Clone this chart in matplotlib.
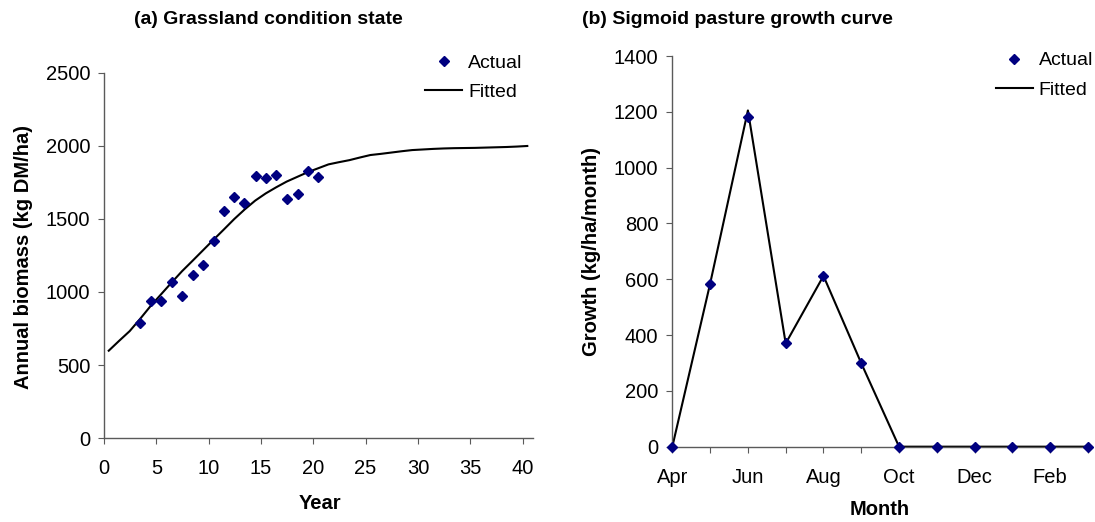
import matplotlib
matplotlib.use('Agg')
import matplotlib.pyplot as plt
from matplotlib.lines import Line2D

plt.rcParams['font.family'] = ['Liberation Sans', 'DejaVu Sans']

# (a) grassland condition state
actual_years = [3.44, 4.46, 5.41, 6.46, 7.48, 8.47, 9.46, 10.5, 11.46, 12.45,
                13.4, 14.5, 15.47, 16.46, 17.45, 18.5, 19.48, 20.47]
actual_biomass = [785, 940, 940, 1068, 975, 1116, 1187, 1352, 1557, 1648,
                  1607, 1795, 1781, 1801, 1640, 1669, 1831, 1788]

fitted_years = [0.45, 1.45, 2.45, 3.45, 4.45, 5.45, 6.45, 7.45, 8.45, 9.45,
                10.45, 11.45, 12.45, 13.45, 14.45, 15.45, 16.45, 17.45, 18.45, 19.45,
                20.45, 21.45, 22.45, 23.45, 24.45, 25.45, 26.45, 27.45, 28.45, 29.45,
                30.45, 31.45, 32.45, 33.45, 34.45, 35.45, 36.45, 37.45, 38.45, 39.45,
                40.45]
fitted_biomass = [598, 666, 732, 816, 904, 984, 1064, 1142, 1213, 1285,
                  1357, 1428, 1500, 1566, 1626, 1675, 1717, 1756, 1788, 1820,
                  1847, 1874, 1889, 1903, 1921, 1938, 1946, 1955, 1964, 1972,
                  1976, 1980, 1983, 1985, 1986, 1987, 1989, 1991, 1993, 1996,
                  2000]

# (b) sigmoid pasture growth curve
months = ['Apr', 'May', 'Jun', 'Jul', 'Aug', 'Sep', 'Oct', 'Nov', 'Dec', 'Jan', 'Feb', 'Mar']
actual_growth = [0, 584, 1180, 370, 612, 299, 0, 0, 0, 0, 0, 0]
fitted_growth = [0, 584, 1205, 370, 612, 299, 0, 0, 0, 0, 0, 0]

spine_col = '#5a5a5a'
mk_col = '#000080'
W, H = 1095.0, 522.0

fig = plt.figure(figsize=(10.95, 5.22), dpi=100)
ax1 = fig.add_axes([0.0950, 0.1609, 0.3918, 0.6993])
ax2 = fig.add_axes([0.6140, 0.1443, 0.3796, 0.7484])

for ax in (ax1, ax2):
    for s in ('top', 'right'):
        ax.spines[s].set_visible(False)
    for s in ('left', 'bottom'):
        ax.spines[s].set_color(spine_col)
        ax.spines[s].set_linewidth(1.0)
    ax.tick_params(direction='out', length=4, color=spine_col, labelsize=14.5)
    ax.tick_params(axis='y', pad=6)
    ax.tick_params(axis='x', pad=11)

# left chart
ax1.plot(fitted_years, fitted_biomass, color='black', lw=1.5, zorder=2)
ax1.plot(actual_years, actual_biomass, 'D', color=mk_col, ms=5.5, ls='none', zorder=3)
ax1.set_xlim(0, 41)
ax1.set_ylim(0, 2500)
ax1.set_xticks(range(0, 41, 5))
ax1.set_yticks(range(0, 2501, 500))
ax1.set_xlabel('Year', fontsize=14.5, fontweight='bold', va='center')
ax1.set_ylabel('Annual biomass (kg DM/ha)', fontsize=14.5, fontweight='bold', va='center')
ax1.xaxis.set_label_coords((320 - 104) / 429.0, -(503 - 438) / 365.0)
ax1.yaxis.set_label_coords((23 - 104) / 429.0, (438 - 257) / 365.0)

# right chart
x = list(range(len(months)))
ax2.plot(x, fitted_growth, color='black', lw=1.5, zorder=2, clip_on=False)
ax2.plot(x, actual_growth, 'D', color=mk_col, ms=5.5, ls='none', zorder=3, clip_on=False)
ax2.set_xlim(0, 11)
ax2.set_ylim(0, 1400)
ax2.set_xticks(x)
ax2.set_xticklabels([m if i % 2 == 0 else '' for i, m in enumerate(months)])
ax2.set_yticks(range(0, 1401, 200))
ax2.set_xlabel('Month', fontsize=14.5, fontweight='bold', va='center')
ax2.set_ylabel('Growth (kg/ha/month)', fontsize=14.5, fontweight='bold', va='center')
ax2.xaxis.set_label_coords((880 - 672) / 416.0, -(510 - 447) / 391.0)
ax2.yaxis.set_label_coords((591 - 672) / 416.0, (447 - 252) / 391.0)

handles = [Line2D([], [], marker='D', color=mk_col, ls='none', ms=5),
           Line2D([], [], color='black', lw=1.5)]
fig.legend(handles, ['Actual', 'Fitted'], loc='upper left', bbox_to_anchor=(0.376, 0.922),
           frameon=False, fontsize=14, handlelength=1.9, handletextpad=0.3,
           labelspacing=0.6, borderpad=0.2)
fig.legend(handles, ['Actual', 'Fitted'], loc='upper left', bbox_to_anchor=(0.897, 0.927),
           frameon=False, fontsize=14, handlelength=1.9, handletextpad=0.3,
           labelspacing=0.6, borderpad=0.2)

fig.text(268 / W, 1 - 19 / H, '(a) Grassland condition state', ha='center', va='center',
         fontsize=14, fontweight='bold')
fig.text(737 / W, 1 - 19 / H, '(b) Sigmoid pasture growth curve', ha='center', va='center',
         fontsize=14, fontweight='bold')

fig.savefig('out.png', dpi=100)
